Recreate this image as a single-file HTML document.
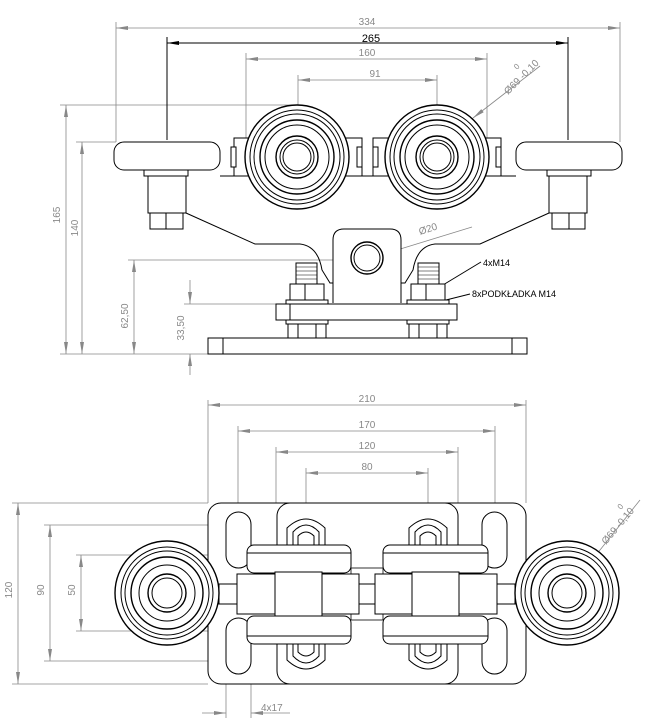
<!DOCTYPE html>
<html><head><meta charset="utf-8"><style>
html,body{margin:0;padding:0;background:#fff}
svg{display:block}
text{font-family:"Liberation Sans",sans-serif;}
</style></head><body>
<svg width="658" height="725" viewBox="0 0 658 725" xmlns="http://www.w3.org/2000/svg">
<defs>
<marker id="a" markerWidth="12" markerHeight="6" refX="12" refY="3" orient="auto-start-reverse" markerUnits="userSpaceOnUse"><path d="M0,1 L12,3 L0,5 Z" fill="#888"/></marker>
<marker id="b" markerWidth="12" markerHeight="6" refX="12" refY="3" orient="auto-start-reverse" markerUnits="userSpaceOnUse"><path d="M0,1 L12,3 L0,5 Z" fill="#000"/></marker>
</defs>
<!-- ===== TOP VIEW dims ===== -->
<g stroke="#888" stroke-width="0.8" fill="none">
<line x1="116" y1="22" x2="116" y2="142"/><line x1="620" y1="22" x2="620" y2="142"/>
<line x1="116" y1="28" x2="620" y2="28" marker-start="url(#a)" marker-end="url(#a)"/>
<line x1="246" y1="53" x2="246" y2="140"/><line x1="487" y1="53" x2="487" y2="140"/>
<line x1="246" y1="59" x2="487" y2="59" marker-start="url(#a)" marker-end="url(#a)"/>
<line x1="298" y1="75" x2="298" y2="190"/><line x1="437" y1="75" x2="437" y2="190"/>
<line x1="298" y1="80" x2="437" y2="80" marker-start="url(#a)" marker-end="url(#a)"/>
<line x1="540" y1="66" x2="473" y2="118" marker-end="url(#a)"/>
<line x1="473" y1="118" x2="400" y2="193"/>
<line x1="60" y1="105" x2="298" y2="105"/><line x1="66" y1="105" x2="66" y2="354" marker-start="url(#a)" marker-end="url(#a)"/>
<line x1="76" y1="142" x2="116" y2="142"/><line x1="82" y1="142" x2="82" y2="354" marker-start="url(#a)" marker-end="url(#a)"/>
<line x1="128" y1="260" x2="367" y2="260"/><line x1="134" y1="260" x2="134" y2="354" marker-start="url(#a)" marker-end="url(#a)"/>
<line x1="184" y1="304" x2="276" y2="304"/><line x1="190" y1="280" x2="190" y2="304" marker-end="url(#a)"/><line x1="190" y1="375" x2="190" y2="354" marker-end="url(#a)"/>
<line x1="60" y1="354" x2="208" y2="354"/>
<line x1="472" y1="227" x2="384" y2="254" marker-end="url(#a)"/>
</g>
<g stroke="#000" stroke-width="1" fill="none">
<line x1="167" y1="37" x2="167" y2="140"/><line x1="568" y1="37" x2="568" y2="140"/>
<line x1="167" y1="43" x2="568" y2="43" marker-start="url(#b)" marker-end="url(#b)"/>
<line x1="481" y1="262" x2="438" y2="288"/><line x1="470" y1="294" x2="446" y2="300"/>
</g>
<g font-size="10" fill="#888">
<text x="367" y="25" text-anchor="middle">334</text>
<text x="367" y="56" text-anchor="middle">160</text>
<text x="375" y="77" text-anchor="middle">91</text>
<text x="75" y="230" transform="rotate(-90 60 230)" text-anchor="middle">165</text>
<text x="80" y="230" transform="rotate(-90 78 230)" text-anchor="middle">140</text>
<text x="130" y="318" transform="rotate(-90 128 318)" text-anchor="middle">62,50</text>
<text x="186" y="330" transform="rotate(-90 184 330)" text-anchor="middle">33,50</text>
<text x="508" y="95" transform="rotate(-45 508 95)">Ø69 -0,10</text>
<text x="517" y="70" transform="rotate(-45 517 70)" font-size="8">0</text>
<text x="420" y="235" transform="rotate(-18 420 235)">Ø20</text>
</g>
<text x="371" y="42" font-size="11" text-anchor="middle" fill="#000">265</text>
<text x="483" y="266" font-size="9" fill="#000">4xM14</text>
<text x="472" y="297" font-size="9" fill="#000">8xPODKŁADKA M14</text>
<!-- ===== TOP VIEW geometry ===== -->
<g stroke="#000" stroke-width="1" fill="#fff">
<!-- body -->
<path d="M186,213 L255,244 L300,244 Q318,246 322,270 L330,283 L333,283" fill="none"/>
<path d="M549,213 L480,244 L435,244 Q417,246 413,270 L405,283 L401,283" fill="none"/>
<rect x="234" y="138" width="128" height="38"/><rect x="373" y="138" width="128" height="38"/>
<rect x="231" y="147" width="5" height="20"/><rect x="357" y="147" width="5" height="20"/>
<rect x="373" y="147" width="5" height="20"/><rect x="496" y="147" width="5" height="20"/>
<line x1="220" y1="176" x2="516" y2="176"/>
<!-- side rollers -->
<rect x="114" y="142" width="106" height="28" rx="10"/><rect x="516" y="142" width="106" height="28" rx="10"/>
<line x1="158" y1="142" x2="176" y2="142"/><line x1="558" y1="142" x2="576" y2="142"/>
<rect x="144" y="170" width="44" height="6"/><rect x="547" y="170" width="44" height="6"/>
<rect x="148" y="176" width="38" height="37"/><rect x="549" y="176" width="38" height="37"/>
<rect x="150" y="213" width="33" height="16"/><rect x="552" y="213" width="33" height="16"/>
<line x1="166" y1="213" x2="166" y2="229"/><line x1="569" y1="213" x2="569" y2="229"/>
<!-- big wheels -->
<g id="w"><circle cx="297" cy="157" r="52" stroke-width="1.4"/><circle cx="297" cy="157" r="47"/><circle cx="297" cy="157" r="43"/><circle cx="297" cy="157" r="37" stroke-width="1.4"/><circle cx="297" cy="157" r="32"/><circle cx="297" cy="157" r="21" stroke-width="1.4"/><circle cx="297" cy="157" r="17"/><circle cx="297" cy="157" r="14"/></g>
<use href="#w" x="140"/>
<!-- post -->
<path d="M333,303 L333,240 Q333,229 344,229 L390,229 Q401,229 401,240 L401,303"/>
<circle cx="367" cy="258" r="16" stroke-width="1.4"/><circle cx="367" cy="258" r="13"/>
<!-- threads & nuts -->
<rect x="296" y="263" width="21" height="21"/><rect x="418" y="263" width="21" height="21"/>
<g stroke-width="0.6"><line x1="296" y1="267" x2="317" y2="267"/><line x1="296" y1="271" x2="317" y2="271"/><line x1="296" y1="275" x2="317" y2="275"/><line x1="296" y1="279" x2="317" y2="279"/>
<line x1="418" y1="267" x2="439" y2="267"/><line x1="418" y1="271" x2="439" y2="271"/><line x1="418" y1="275" x2="439" y2="275"/><line x1="418" y1="279" x2="439" y2="279"/></g>
<rect x="290" y="284" width="34" height="16"/><rect x="411" y="284" width="34" height="16"/>
<line x1="305" y1="284" x2="305" y2="300"/><line x1="426" y1="284" x2="426" y2="300"/>
<rect x="286" y="300" width="42" height="4"/><rect x="407" y="300" width="42" height="4"/>
<rect x="276" y="304" width="181" height="16"/><line x1="290" y1="304" x2="290" y2="320"/>
<rect x="286" y="320" width="42" height="4"/><rect x="407" y="320" width="42" height="4"/>
<rect x="288" y="324" width="38" height="14"/><rect x="409" y="324" width="38" height="14"/>
<line x1="298" y1="324" x2="298" y2="338"/><line x1="316" y1="324" x2="316" y2="338"/><line x1="419" y1="324" x2="419" y2="338"/><line x1="437" y1="324" x2="437" y2="338"/>
<rect x="208" y="338" width="319" height="16"/><line x1="223" y1="338" x2="223" y2="354"/><line x1="512" y1="338" x2="512" y2="354"/>
</g>
<!-- ===== BOTTOM VIEW dims ===== -->
<g stroke="#888" stroke-width="0.8" fill="none">
<line x1="208" y1="400" x2="208" y2="503"/><line x1="526" y1="400" x2="526" y2="503"/>
<line x1="208" y1="405" x2="526" y2="405" marker-start="url(#a)" marker-end="url(#a)"/>
<line x1="238" y1="426" x2="238" y2="520"/><line x1="495" y1="426" x2="495" y2="520"/>
<line x1="238" y1="431" x2="495" y2="431" marker-start="url(#a)" marker-end="url(#a)"/>
<line x1="276" y1="447" x2="276" y2="503"/><line x1="458" y1="447" x2="458" y2="503"/>
<line x1="276" y1="452" x2="458" y2="452" marker-start="url(#a)" marker-end="url(#a)"/>
<line x1="306" y1="468" x2="306" y2="520"/><line x1="428" y1="468" x2="428" y2="520"/>
<line x1="306" y1="473" x2="428" y2="473" marker-start="url(#a)" marker-end="url(#a)"/>
<line x1="12" y1="503" x2="208" y2="503"/><line x1="12" y1="684" x2="208" y2="684"/>
<line x1="18" y1="503" x2="18" y2="684" marker-start="url(#a)" marker-end="url(#a)"/>
<line x1="44" y1="525" x2="238" y2="525"/><line x1="44" y1="661" x2="238" y2="661"/>
<line x1="50" y1="525" x2="50" y2="661" marker-start="url(#a)" marker-end="url(#a)"/>
<line x1="76" y1="555" x2="238" y2="555"/><line x1="76" y1="631" x2="238" y2="631"/>
<line x1="81" y1="555" x2="81" y2="631" marker-start="url(#a)" marker-end="url(#a)"/>
<line x1="226" y1="660" x2="226" y2="718"/><line x1="251" y1="660" x2="251" y2="718"/>
<line x1="202" y1="713" x2="226" y2="713" marker-end="url(#a)"/><line x1="290" y1="713" x2="251" y2="713" marker-end="url(#a)"/>
<line x1="640" y1="500" x2="588" y2="565" marker-end="url(#a)"/><line x1="588" y1="565" x2="550" y2="612"/>
</g>
<g font-size="10" fill="#888">
<text x="367" y="402" text-anchor="middle">210</text>
<text x="367" y="428" text-anchor="middle">170</text>
<text x="367" y="449" text-anchor="middle">120</text>
<text x="367" y="470" text-anchor="middle">80</text>
<text x="16" y="594" transform="rotate(-90 12 594)" text-anchor="middle">120</text>
<text x="48" y="594" transform="rotate(-90 44 594)" text-anchor="middle">90</text>
<text x="79" y="594" transform="rotate(-90 75 594)" text-anchor="middle">50</text>
<text x="261" y="711">4x17</text>
<text x="606" y="545" transform="rotate(-50 606 545)">Ø69 -0,10</text>
<text x="621" y="510" transform="rotate(-50 621 510)" font-size="8">0</text>
</g>
<!-- ===== BOTTOM VIEW geometry ===== -->
<g stroke="#000" stroke-width="1" fill="#fff">
<rect x="208" y="503" width="318" height="181" rx="13"/>
<rect x="277" y="503" width="181" height="181" rx="13"/>
<rect x="226" y="512" width="25" height="56" rx="12.5"/><rect x="226" y="618" width="25" height="56" rx="12.5"/>
<rect x="482" y="512" width="25" height="56" rx="12.5"/><rect x="482" y="618" width="25" height="56" rx="12.5"/>
<g id="bo"><path d="M287,545 L287,528 Q306,510 325,528 L325,545"/><path d="M293,545 L293,532 Q306,518 319,532 L319,545"/><path d="M298,545 L298,536 Q306,528 314,536 L314,545"/></g>
<use href="#bo" x="122"/>
<g transform="translate(0,1188) scale(1,-1)"><use href="#bo"/><use href="#bo" x="122"/></g>
<rect x="247" y="545" width="104" height="28" rx="7"/><rect x="247" y="616" width="104" height="28" rx="7"/>
<rect x="383" y="545" width="105" height="28" rx="7"/><rect x="383" y="616" width="105" height="28" rx="7"/>
<line x1="247" y1="553" x2="351" y2="553"/><line x1="383" y1="553" x2="488" y2="553"/>
<line x1="247" y1="636" x2="351" y2="636"/><line x1="383" y1="636" x2="488" y2="636"/>
<rect x="351" y="568" width="32" height="52" stroke-width="0.8"/>
<rect x="237" y="574" width="38" height="40"/><rect x="275" y="572" width="47" height="44"/><rect x="322" y="574" width="37" height="40"/>
<rect x="375" y="574" width="37" height="40"/><rect x="412" y="572" width="47" height="44"/><rect x="459" y="574" width="38" height="40"/>
<rect x="359" y="584" width="16" height="20"/>
<rect x="219" y="584" width="18" height="20"/><rect x="497" y="584" width="18" height="20"/>
<g id="sw"><circle cx="167" cy="593" r="52" stroke-width="1.4"/><circle cx="167" cy="593" r="46"/><circle cx="167" cy="593" r="42"/><circle cx="167" cy="593" r="36" stroke-width="1.4"/><circle cx="167" cy="593" r="28"/><circle cx="167" cy="593" r="19" stroke-width="1.4"/><circle cx="167" cy="593" r="15"/></g>
<use href="#sw" x="400"/>
</g>
</svg>
</body></html>
